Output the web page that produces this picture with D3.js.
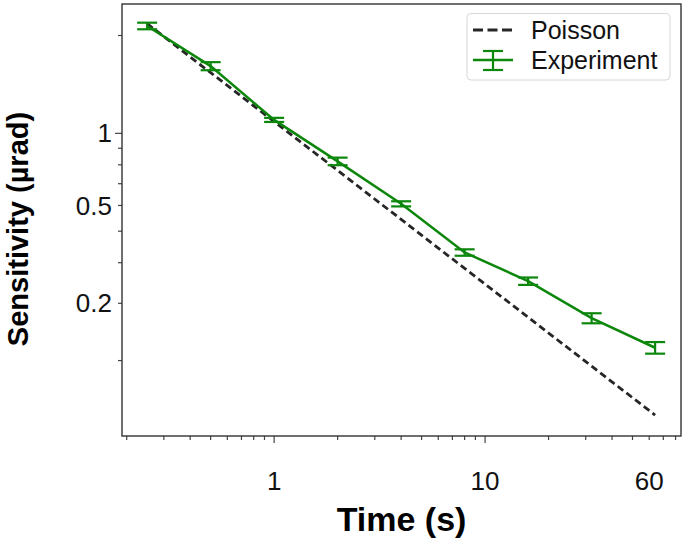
<!DOCTYPE html>
<html>
<head>
<meta charset="utf-8">
<script src="https://cdn.jsdelivr.net/npm/d3@7"></script>
<style>
  html, body { margin: 0; padding: 0; background: #fff; }
  svg { display: block; font-family: "Liberation Sans", Arial, Helvetica, sans-serif; }
</style>
</head>
<body>
<svg id="chart" width="686" height="541"></svg>
<script>
// ---- data ----
const times = [0.25, 0.5, 1, 2, 4, 8, 16, 32, 64];
const experiment = [2.14, 1.61, 1.10, 0.82, 0.607, 0.430, 0.351, 0.270, 0.219];
const experimentErr = [0.05, 0.046, 0.016, 0.022, 0.011, 0.0098, 0.0092, 0.0096, 0.009];
const poisson = [2.174, 1.537, 1.087, 0.769, 0.5435, 0.3843, 0.2718, 0.1922, 0.1359];
const seriesNames = ["Poisson", "Experiment"];
const xTickValues = [1, 10, 60];
const xTickLabels = ["1", "10", "60"];
const yTickValues = [1, 0.6, 0.3];
const yTickLabels = ["1", "0.5", "0.2"];
const xDomain = [0.19, 84.9];
const yDomain = [0.1172, 2.50];

// ---- layout ----
const W = 686, H = 541;
const plot = { left: 122, right: 681, top: 4, bottom: 436 };
const green = "#0c870c";
const dark = "#262626";

const svg = d3.select("#chart");
const x = d3.scaleLog().domain(xDomain).range([plot.left, plot.right]);
const y = d3.scaleLog().domain(yDomain).range([plot.bottom, plot.top]);

// minor/major tick positions
function logTicks(domain) {
  const out = [];
  for (let e = -3; e <= 3; e++) {
    for (let s = 1; s <= 9; s++) {
      const v = s * Math.pow(10, e);
      if (v >= domain[0] && v <= domain[1]) out.push({ v, major: s === 1 });
    }
  }
  return out;
}

// x axis ticks
const gx = svg.append("g");
gx.selectAll("line").data(logTicks(xDomain)).join("line")
  .attr("x1", d => x(d.v)).attr("x2", d => x(d.v))
  .attr("y1", plot.bottom).attr("y2", d => plot.bottom + (d.major ? 7 : 4))
  .attr("stroke", "#444").attr("stroke-width", 1.2);
gx.selectAll("text").data(xTickValues).join("text")
  .attr("x", d => x(d)).attr("y", 490)
  .attr("text-anchor", "middle").attr("font-size", 26).attr("fill", "#111")
  .text((d, i) => xTickLabels[i]);

// y axis ticks
const gy = svg.append("g");
gy.selectAll("line").data(logTicks(yDomain)).join("line")
  .attr("y1", d => y(d.v)).attr("y2", d => y(d.v))
  .attr("x1", plot.left).attr("x2", d => plot.left - (d.major ? 7 : 4))
  .attr("stroke", "#444").attr("stroke-width", 1.2);
gy.selectAll("text").data(yTickValues).join("text")
  .attr("x", 112).attr("y", d => y(d)).attr("dy", "0.35em")
  .attr("text-anchor", "end").attr("font-size", 26).attr("fill", "#111")
  .text((d, i) => yTickLabels[i]);

// frame
svg.append("rect")
  .attr("x", plot.left).attr("y", plot.top)
  .attr("width", plot.right - plot.left).attr("height", plot.bottom - plot.top)
  .attr("fill", "none").attr("stroke", "#333").attr("stroke-width", 1.4);

// Poisson dashed line
const line = d3.line().x(d => x(d[0])).y(d => y(d[1]));
svg.append("path")
  .attr("d", line(times.map((t, i) => [t, poisson[i]])))
  .attr("fill", "none").attr("stroke", dark).attr("stroke-width", 2.8)
  .attr("stroke-dasharray", "7,4");

// Experiment line
svg.append("path")
  .attr("d", line(times.map((t, i) => [t, experiment[i]])))
  .attr("fill", "none").attr("stroke", green).attr("stroke-width", 2.5);

// error bars
const eb = svg.append("g").attr("stroke", green).attr("stroke-width", 2.2);
const cap = 10;
times.forEach((t, i) => {
  const cx = x(t);
  const yHi = y(experiment[i] + experimentErr[i]);
  const yLo = y(experiment[i] - experimentErr[i]);
  eb.append("line").attr("x1", cx).attr("x2", cx).attr("y1", yHi).attr("y2", yLo);
  eb.append("line").attr("x1", cx - cap).attr("x2", cx + cap).attr("y1", yHi).attr("y2", yHi);
  eb.append("line").attr("x1", cx - cap).attr("x2", cx + cap).attr("y1", yLo).attr("y2", yLo);
});

// legend
const lg = svg.append("g");
lg.append("rect").attr("x", 467).attr("y", 13.5).attr("width", 203).attr("height", 66.5)
  .attr("rx", 4).attr("fill", "#fff").attr("stroke", "#d6d6d6").attr("stroke-width", 1);
lg.append("line").attr("x1", 473).attr("x2", 513).attr("y1", 30).attr("y2", 30)
  .attr("stroke", dark).attr("stroke-width", 2.8).attr("stroke-dasharray", "10,4.5");
lg.append("line").attr("x1", 473).attr("x2", 513).attr("y1", 60).attr("y2", 60)
  .attr("stroke", green).attr("stroke-width", 2.5);
lg.append("line").attr("x1", 493).attr("x2", 493).attr("y1", 51).attr("y2", 70)
  .attr("stroke", green).attr("stroke-width", 2.2);
lg.append("line").attr("x1", 483).attr("x2", 503).attr("y1", 51).attr("y2", 51)
  .attr("stroke", green).attr("stroke-width", 2.2);
lg.append("line").attr("x1", 483).attr("x2", 503).attr("y1", 70).attr("y2", 70)
  .attr("stroke", green).attr("stroke-width", 2.2);
lg.selectAll("text").data(seriesNames).join("text")
  .attr("x", 531).attr("y", (d, i) => 38.5 + i * 30)
  .attr("font-size", 25).attr("fill", "#111").text(d => d);

// axis titles
svg.append("text")
  .attr("x", (plot.left + plot.right) / 2).attr("y", 531)
  .attr("text-anchor", "middle").attr("font-size", 34).attr("font-weight", "bold")
  .attr("fill", "#000").text("Time (s)");
svg.append("text")
  .attr("transform", "translate(28,229) rotate(-90)")
  .attr("text-anchor", "middle").attr("font-size", 29).attr("font-weight", "bold")
  .attr("fill", "#000").text("Sensitivity (µrad)");
</script>
</body>
</html>
